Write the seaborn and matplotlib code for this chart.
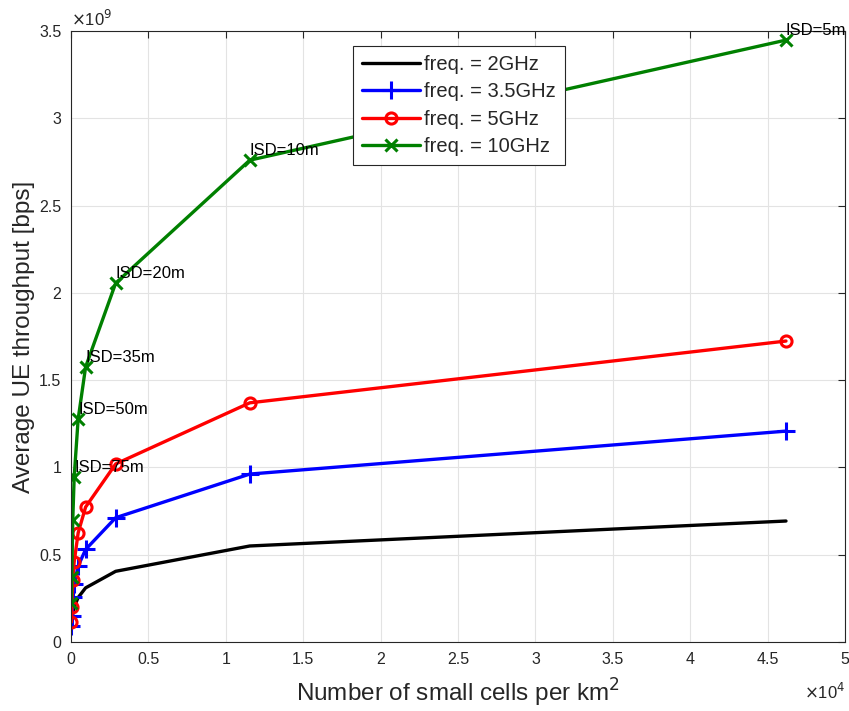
import numpy as np
import pandas as pd
import matplotlib
matplotlib.use("Agg")
import matplotlib.pyplot as plt
from matplotlib.ticker import FuncFormatter, MultipleLocator
import seaborn as sns

# Data
isd_m = [5, 10, 20, 35, 50, 75, 100, 150, 200]
cells_per_km2 = [46188, 11547, 2887, 943, 462, 205, 115, 51, 29]
thr_2ghz = [0.693e9, 0.55e9, 0.405e9, 0.31e9, 0.255e9, 0.20e9, 0.16e9, 0.11e9, 0.08e9]
thr_3_5ghz = [1.208e9, 0.962e9, 0.712e9, 0.53e9, 0.435e9, 0.33e9, 0.26e9, 0.15e9, 0.09e9]
thr_5ghz = [1.724e9, 1.37e9, 1.02e9, 0.773e9, 0.625e9, 0.458e9, 0.355e9, 0.20e9, 0.115e9]
thr_10ghz = [3.448e9, 2.76e9, 2.056e9, 1.575e9, 1.277e9, 0.945e9, 0.70e9, 0.37e9, 0.225e9]
series_labels = ["freq. = 2GHz", "freq. = 3.5GHz", "freq. = 5GHz", "freq. = 10GHz"]
annot_isd = [5, 10, 20, 35, 50, 75]

sns.set_theme(style="white")
plt.rcParams['font.family'] = ['Liberation Sans', 'DejaVu Sans']

fig = plt.figure(figsize=(8.49, 7.11), dpi=100)
ax = fig.add_axes([71/849, 1-642/711, (845-71)/849, (642-31)/711])

series = [thr_2ghz, thr_3_5ghz, thr_5ghz, thr_10ghz]
colors = ["black", "#0000ff", "#ff0000", "#008000"]
markers = [None, "+", "o", "x"]
msizes = [0, 13, 8, 9]

for vals, lab, c, m, ms in zip(series, series_labels, colors, markers, msizes):
    df = pd.DataFrame({"x": cells_per_km2, "y": vals})
    kw = dict(marker=m, markersize=ms, markeredgewidth=2.2,
              markerfacecolor="none", markeredgecolor=c) if m else {}
    sns.lineplot(data=df, x="x", y="y", ax=ax, color=c, linewidth=2.4,
                 sort=False, estimator=None, label=lab, **kw)

# ISD annotations on the 10GHz curve
for isd, xv, yv in zip(isd_m, cells_per_km2, thr_10ghz):
    if isd in annot_isd:
        ax.annotate(f"ISD={isd}m", (xv, yv), xytext=(0, 7), textcoords="offset points",
                    ha="left", va="center", fontsize=12, color="black")

ax.set_xlim(0, 5e4)
ax.set_ylim(0, 3.5e9)
ax.xaxis.set_major_locator(MultipleLocator(5000))
ax.yaxis.set_major_locator(MultipleLocator(0.5e9))
ax.xaxis.set_major_formatter(FuncFormatter(lambda v, p: f"{v/1e4:g}"))
ax.yaxis.set_major_formatter(FuncFormatter(lambda v, p: f"{v/1e9:g}"))
ax.tick_params(direction="in", length=5, width=0.8, top=True, right=True,
               labelsize=11.5, colors="#262626", pad=7)
for s in ax.spines.values():
    s.set_color("#262626")
    s.set_linewidth(0.8)
ax.grid(True, color="#e3e3e3", linewidth=0.8)
ax.set_axisbelow(True)

ax.set_xlabel("Number of small cells per km$^2$", fontsize=17.5, color="#262626", labelpad=7)
ax.set_ylabel("Average UE throughput [bps]", fontsize=17.5, color="#262626", labelpad=3)

ax.text(0.0, 1.004, r"$\times$10$^9$", transform=ax.transAxes, fontsize=12,
        color="#262626", ha="left", va="bottom")
ax.text(1.0, -0.065, r"$\times$10$^4$", transform=ax.transAxes, fontsize=12,
        color="#262626", ha="right", va="top")

leg = ax.legend(loc="upper left", bbox_to_anchor=(0.364, 0.976), fontsize=14.5,
                frameon=True, fancybox=False, edgecolor="#262626", handlelength=2.9,
                handletextpad=0.2, borderpad=0.45, labelspacing=0.42, borderaxespad=0)
leg.get_frame().set_linewidth(0.8)
leg.get_frame().set_facecolor("white")
leg.get_frame().set_alpha(1)

fig.savefig("out.png", dpi=100)
